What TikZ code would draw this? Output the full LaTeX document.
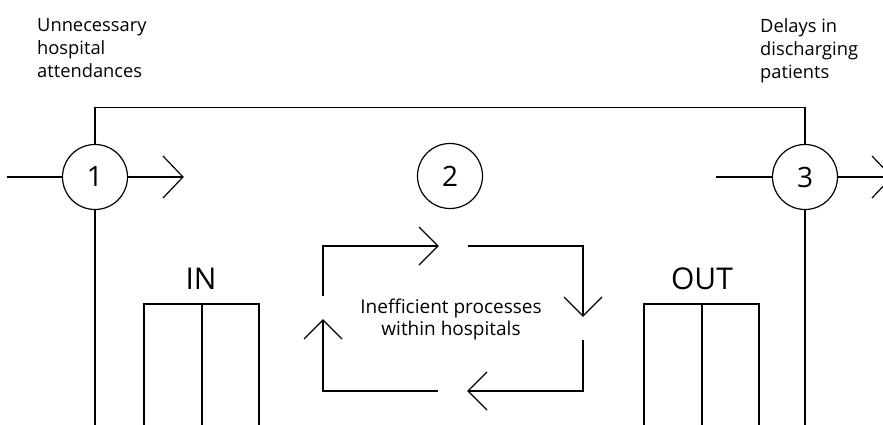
\documentclass[tikz,border=0pt]{standalone}
\usepackage{fontspec}
\setmainfont{Open Sans}
\usetikzlibrary{calc}
\tikzset{
  ln/.style={line width=1.2pt, black},
  num/.style={circle, draw, line width=1.2pt, minimum size=65pt, inner sep=0pt, font=\fontsize{28}{28}\selectfont},
  lab/.style={inner sep=0pt, align=left, font=\fontsize{18.3}{23}\selectfont},
  midlab/.style={inner sep=0pt, align=center, font=\fontsize{19}{22}\selectfont},
  big/.style={inner sep=0pt, font=\fontsize{30}{30}\selectfont}
}
\begin{document}
\begin{tikzpicture}[x=1pt,y=-1pt]
\clip (0,0) rectangle (883,425);
\fill[white] (0,0) rectangle (883,425);
% circles
\node[num] (c1) at (95,177) {1};
\node[num] (c2) at (450,176) {2};
\node[num] (c3) at (805,177) {3};
% free ends
\coordinate (l1) at (7,177);
\coordinate (r1) at (183,177);
\coordinate (l3) at (716,177);
\coordinate (r3) at (892,177);
\coordinate (b1) at (95,430);
\coordinate (b3) at (805,430);
\draw[ln] (l1) -- (c1.west);
\draw[ln] (c1.east) -- (r1);
\draw[ln] ($(r1)+(-20,-21)$) -- (r1) -- ($(r1)+(-20,21)$);
\draw[ln] (l3) -- (c3.west);
\draw[ln] (c3.east) -- (r3);
\draw[ln] ($(r3)+(-20,-21)$) -- (r3) -- ($(r3)+(-20,21)$);
\draw[ln] (c1.north) -- ++(0,-36) -| (c3.north);
\draw[ln] (c1.south) -- (b1);
\draw[ln] (c3.south) -- (b3);
% texts
\node[lab, anchor=north west] (t1) at (37,18.5) {Unnecessary\\hospital\\attendances};
\node[lab, anchor=north west] (t3) at (760,18.5) {Delays in\\discharging\\patients};
\node[midlab] (mid) at (451,320) {Inefficient processes\\within hospitals};
\node[big] (in) at (201,279) {IN};
\node[big] (out) at (702,279) {OUT};
% IN / OUT boxes
\draw[ln] (144,430) |- (259,304) -- (259,430);
\draw[ln] (202,304) -- (202,430);
\draw[ln] (644,430) |- (759,304) -- (759,430);
\draw[ln] (702,304) -- (702,430);
% loop
\coordinate (a1s) at (323,296); \coordinate (a1e) at (438,246);
\coordinate (a2s) at (468,246); \coordinate (a2e) at (583,316);
\coordinate (a3s) at (583,340); \coordinate (a3e) at (468,391);
\coordinate (a4s) at (438,391); \coordinate (a4e) at (323,320);
\draw[ln] (a1s) |- (a1e);
\draw[ln] ($(a1e)+(-19,-19)$) -- (a1e) -- ($(a1e)+(-19,19)$);
\draw[ln] (a2s) -| (a2e);
\draw[ln] ($(a2e)+(-19,-19)$) -- (a2e) -- ($(a2e)+(19,-19)$);
\draw[ln] (a3s) |- (a3e);
\draw[ln] ($(a3e)+(19,-19)$) -- (a3e) -- ($(a3e)+(19,19)$);
\draw[ln] (a4s) -| (a4e);
\draw[ln] ($(a4e)+(-19,19)$) -- (a4e) -- ($(a4e)+(19,19)$);
\end{tikzpicture}
\end{document}
